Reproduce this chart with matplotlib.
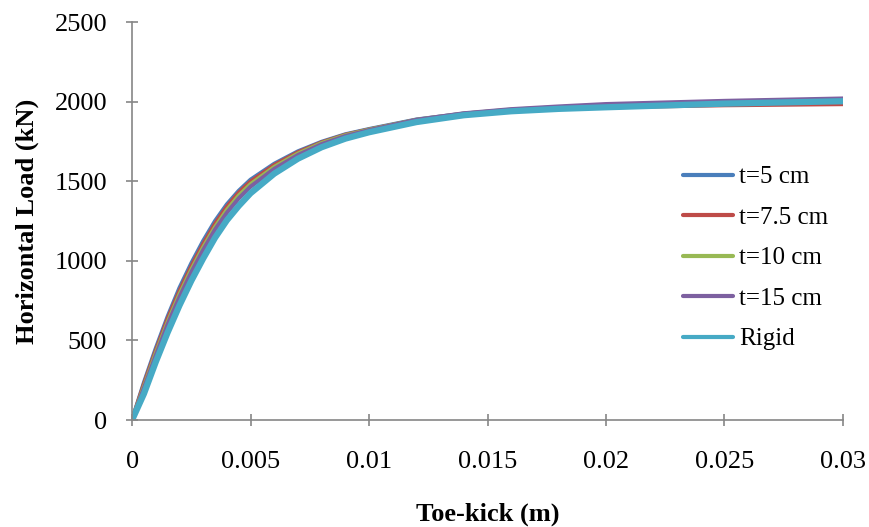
import matplotlib
matplotlib.use('Agg')
import matplotlib.pyplot as plt

plt.rcParams['font.family'] = 'Liberation Serif'

# Toe-kick displacement (m) and horizontal load (kN) for each tread thickness
toe_kick = [0, 0.0005, 0.001, 0.0015, 0.002, 0.0025, 0.003, 0.0035, 0.004, 0.0045,
            0.005, 0.006, 0.007, 0.008, 0.009, 0.01, 0.012, 0.014, 0.016, 0.018,
            0.02, 0.025, 0.03]
load_t5 = [0, 235, 450, 650, 830, 985, 1125, 1250, 1355, 1440,
           1510, 1610, 1688, 1748, 1795, 1828, 1888, 1925, 1948, 1962,
           1975, 1995, 2010]
load_t75 = [0, 225, 435, 635, 810, 965, 1105, 1232, 1340, 1428,
            1498, 1602, 1682, 1744, 1792, 1825, 1884, 1920, 1942, 1955,
            1965, 1978, 1985]
load_t10 = [0, 210, 420, 615, 790, 945, 1085, 1212, 1320, 1410,
            1482, 1590, 1674, 1740, 1789, 1824, 1886, 1925, 1950, 1965,
            1980, 2000, 2015]
load_t15 = [0, 200, 405, 600, 772, 928, 1068, 1196, 1302, 1392,
            1466, 1578, 1665, 1733, 1784, 1821, 1886, 1927, 1953, 1970,
            1985, 2005, 2020]
load_rigid = [0, 165, 365, 550, 720, 875, 1015, 1145, 1255, 1345,
              1425, 1548, 1642, 1714, 1768, 1808, 1872, 1915, 1940, 1955,
              1965, 1988, 2003]

series = [
    ('t=5 cm', load_t5, '#4A7EBB', 3),
    ('t=7.5 cm', load_t75, '#BE4B48', 3),
    ('t=10 cm', load_t10, '#98B954', 3),
    ('t=15 cm', load_t15, '#7D60A0', 3),
    ('Rigid', load_rigid, '#46AAC5', 4.5),
]

fig = plt.figure(figsize=(8.69, 5.27), dpi=100)
ax = fig.add_axes([0.152, 0.203, 0.818, 0.755])

for label, load, color, lw in series:
    ax.plot(toe_kick, load, color=color, lw=lw, label=label,
            solid_capstyle='round', solid_joinstyle='round')

ax.set_xlim(0, 0.03)
ax.set_ylim(0, 2500)
ax.set_xticks([0, 0.005, 0.01, 0.015, 0.02, 0.025, 0.03])
ax.set_xticklabels(['0', '0.005', '0.01', '0.015', '0.02', '0.025', '0.03'])
ax.set_yticks(range(0, 2501, 500))

for side in ['top', 'right']:
    ax.spines[side].set_visible(False)
for side in ['left', 'bottom']:
    ax.spines[side].set_color('#868686')
    ax.spines[side].set_linewidth(1.2)
ax.tick_params(direction='inout', length=8, width=1.2, color='#868686',
               labelsize=19)
ax.tick_params(axis='x', pad=18.5)
ax.tick_params(axis='y', pad=14)

ax.set_xlabel('Toe-kick (m)', fontsize=19, fontweight='bold', labelpad=21)
ax.set_ylabel('Horizontal Load (kN)', fontsize=19, fontweight='bold', labelpad=11)

leg = ax.legend(loc='upper left', bbox_to_anchor=(0.743, 0.695), frameon=False,
                fontsize=18, handlelength=2.0, labelspacing=0.72, handletextpad=0.27)
for h in leg.get_lines():
    h.set_linewidth(3)

plt.savefig('out.png', dpi=100, facecolor='white')
plt.close()
